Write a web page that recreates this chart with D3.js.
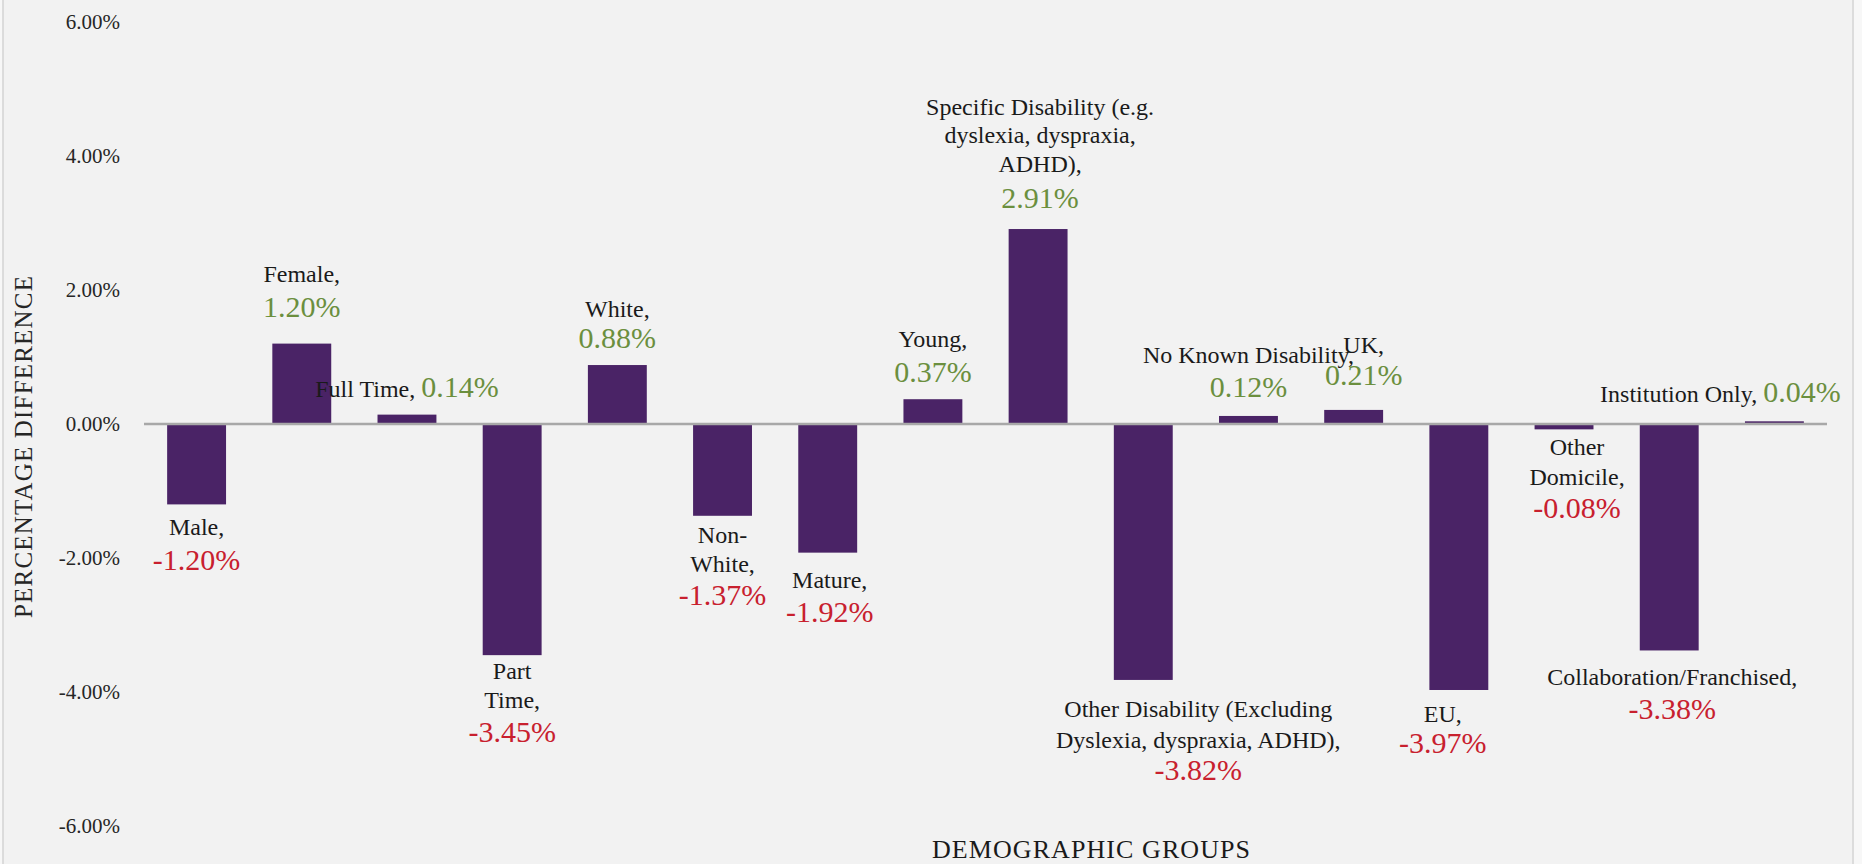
<!DOCTYPE html>
<html>
<head>
<meta charset="utf-8">
<script src="https://cdn.jsdelivr.net/npm/d3@7"></script>
<style>
  html, body { margin: 0; padding: 0; background: #f7f7f7; }
  svg { display: block; }
  text, tspan { font-family: "Liberation Serif", "Times New Roman", serif; }
</style>
</head>
<body>
<svg id="chart" width="1862" height="864"></svg>
<script>
// ---------------- data ----------------
const categories = ["Male", "Female", "Full Time", "Part Time", "White", "Non-White", "Mature", "Young",
  "Specific Disability", "Other Disability", "No Known Disability", "UK", "EU", "Other Domicile",
  "Collaboration/Franchised", "Institution Only"];
const values = [-1.20, 1.20, 0.14, -3.45, 0.88, -1.37, -1.92, 0.37, 2.91, -3.82, 0.12, 0.21, -3.97, -0.08, -3.38, 0.04];
// category label text, split into lines as in the picture
const labelLines = [
  ["Male,"], ["Female,"], ["Full Time,"], ["Part", "Time,"], ["White,"], ["Non-", "White,"], ["Mature,"], ["Young,"],
  ["Specific Disability (e.g.", "dyslexia, dyspraxia,", "ADHD),"],
  ["Other Disability (Excluding", "Dyslexia, dyspraxia, ADHD),"],
  ["No Known Disability,"], ["UK,"], ["EU,"], ["Other", "Domicile,"], ["Collaboration/Franchised,"], ["Institution Only,"]
];
const yTicks = [-6, -4, -2, 0, 2, 4, 6];
const yTitle = "PERCENTAGE DIFFERENCE";
const xTitle = "DEMOGRAPHIC GROUPS";

// ---------------- layout (label placement relative to bar end) ----------------
const labelLayout = [
  {cat: [31], val: 66, dx: 0},
  {cat: [-62], val: -27, dx: 0},
  {inline: -18, dx: 0},
  {cat: [24, 53], val: 87, dx: 0},
  {cat: [-48], val: -17, dx: 0},
  {cat: [27, 56], val: 89, dx: 0},
  {cat: [35], val: 69, dx: 2},
  {cat: [-52], val: -17, dx: 0},
  {cat: [-114, -86, -57], val: -21, dx: 2},
  {cat: [37, 68], val: 100, dx: 55},
  {cat: [-53], val: -19, dx: 0},
  {cat: [-57], val: -25, dx: 10},
  {cat: [32], val: 63, dx: -16},
  {cat: [26, 56], val: 89, dx: 13},
  {cat: [35], val: 69, dx: 3},
  {inline: -19, dx: -54}
];

const W = 1862, H = 864;
const FONT = "Liberation Serif, Times New Roman, serif";
const svg = d3.select("#chart");

svg.append("rect").attr("x", 3).attr("y", -2).attr("width", 1850).attr("height", H + 4)
  .attr("fill", "#f2f2f2").attr("stroke", "#d4d4d4").attr("stroke-width", 1.5);

const x = d3.scaleBand().domain(categories).range([144, 1827]).paddingInner(0.44).paddingOuter(0.22);
const y = d3.scaleLinear().domain([-6, 6]).range([826, 22]);

const fmt = v => v.toFixed(2) + "%";

// y axis
const yAxis = d3.axisLeft(y).tickValues(yTicks).tickSize(0).tickPadding(24).tickFormat(fmt);
const gy = svg.append("g").attr("transform", "translate(144,0)").call(yAxis);
gy.attr("font-family", FONT);
gy.select(".domain").remove();
gy.selectAll("text").attr("font-family", FONT).attr("font-size", 21).attr("fill", "#262626");

// bars
const data = categories.map((c, i) => ({c, v: values[i], i}));
svg.append("g").selectAll("rect").data(data).join("rect")
  .attr("x", d => x(d.c))
  .attr("width", x.bandwidth())
  .attr("y", d => Math.min(y(d.v), y(0)))
  .attr("height", d => Math.abs(y(d.v) - y(0)))
  .attr("fill", "#4a2366");

// zero line
svg.append("line").attr("x1", x.range()[0]).attr("x2", x.range()[1])
  .attr("y1", y(0)).attr("y2", y(0)).attr("stroke", "#a8a8a8").attr("stroke-width", 2.5);

// labels
const green = "#6b8f3e", red = "#c8202e";
const gl = svg.append("g").attr("font-family", FONT);
data.forEach(d => {
  const L = labelLayout[d.i];
  const cx = x(d.c) + x.bandwidth() / 2 + L.dx;
  const yEnd = y(d.v);
  const col = d.v >= 0 ? green : red;
  if (L.inline !== undefined) {
    const t = gl.append("text").attr("x", cx).attr("y", yEnd + L.inline).attr("text-anchor", "middle")
      .attr("font-family", FONT);
    t.append("tspan").attr("font-family", FONT).attr("font-size", 24).attr("fill", "#1a1a1a").text(labelLines[d.i][0] + " ");
    t.append("tspan").attr("font-family", FONT).attr("font-size", 30).attr("fill", col).text(fmt(d.v));
  } else {
    labelLines[d.i].forEach((line, k) => {
      gl.append("text").attr("x", cx).attr("y", yEnd + L.cat[k]).attr("text-anchor", "middle")
        .attr("font-family", FONT).attr("font-size", 24).attr("fill", "#1a1a1a").text(line);
    });
    gl.append("text").attr("x", cx).attr("y", yEnd + L.val).attr("text-anchor", "middle")
      .attr("font-family", FONT).attr("font-size", 30).attr("fill", col).text(fmt(d.v));
  }
});

// axis titles
svg.append("text").attr("transform", "translate(32,447) rotate(-90)").attr("text-anchor", "middle")
  .attr("font-family", FONT).attr("font-size", 25).attr("fill", "#262626")
  .attr("textLength", 342).attr("lengthAdjust", "spacing").text(yTitle);
svg.append("text").attr("x", 1091).attr("y", 858).attr("text-anchor", "middle")
  .attr("font-family", FONT).attr("font-size", 26).attr("fill", "#1a1a1a")
  .attr("textLength", 318).attr("lengthAdjust", "spacing").text(xTitle);
</script>
</body>
</html>
